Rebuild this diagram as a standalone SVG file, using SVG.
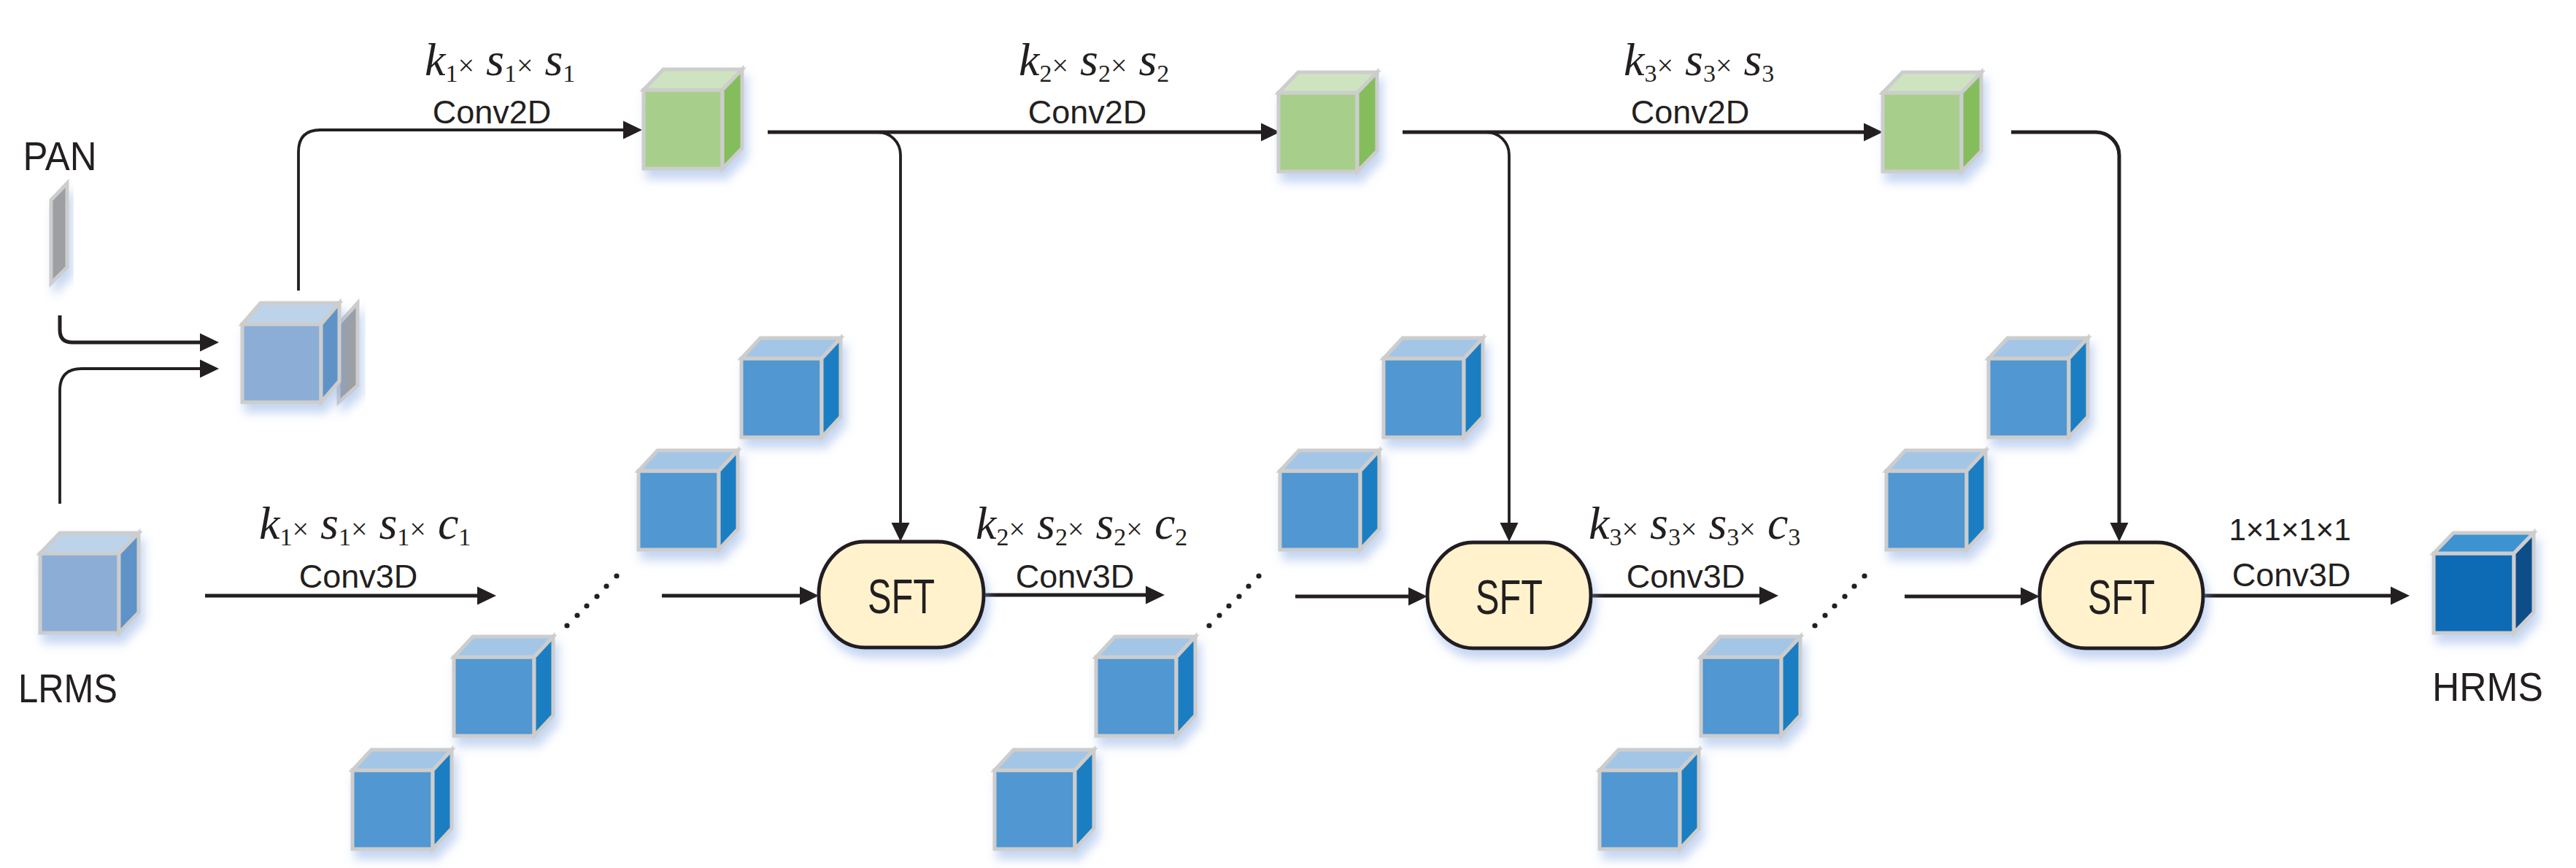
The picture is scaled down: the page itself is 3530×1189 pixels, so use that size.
<svg xmlns="http://www.w3.org/2000/svg" xmlns:xlink="http://www.w3.org/1999/xlink" width="3530" height="1189" viewBox="0 0 3530 1189">
<style>
.edge{fill:none;stroke:#231f20;stroke-width:5;}
.thin{stroke-width:3.8;}
.cb{stroke:#cdcdcd;stroke-width:5;stroke-linejoin:miter;}
.sft{fill:#fff2cc;stroke:#231f20;stroke-width:5;}
.sans{font-family:"Liberation Sans",Arial,sans-serif;fill:#231f20;text-anchor:middle;}
.lab{font-size:45px;}
.name{font-size:56px;}
.sftt{font-size:66px;}
.math{font-family:"Liberation Serif","Times New Roman",serif;font-size:64px;fill:#231f20;}
.it{font-style:italic;}
.sub{font-size:34px;}
.x{font-size:40px;}
.dot{fill:#231f20;}
</style>
<defs>
<filter id="glow" x="-40%" y="-40%" width="180%" height="180%">
<feDropShadow dx="5" dy="12" stdDeviation="7" flood-color="#7ea3e0" flood-opacity="0.45"/>
</filter>
<marker id="ah" markerUnits="userSpaceOnUse" markerWidth="34" markerHeight="34" viewBox="-6 -17 34 34" refX="0" refY="0" orient="auto">
<path d="M-4,-12.5 L22,0 L-4,12.5 z" fill="#231f20"/>
</marker>
<g id="cubeBlue" class="cb">
<rect x="0" y="0" width="110" height="108" fill="#5197d1"/>
<polygon points="0,0 26,-28 136,-28 110,0" fill="#a3c6e7"/>
<polygon points="110,0 136,-28 136,80 110,108" fill="#1f7ec2"/>
</g>
<g id="cubeGreen" class="cb">
<rect x="0" y="0" width="108" height="108" fill="#a7cf8b"/>
<polygon points="0,0 27,-28 135,-28 108,0" fill="#cee4c0"/>
<polygon points="108,0 135,-28 135,80 108,108" fill="#85bd5d"/>
</g>
<g id="cubeLight" class="cb">
<rect x="0" y="0" width="108" height="109" fill="#8caed6"/>
<polygon points="0,0 27,-28 135,-28 108,0" fill="#bcd3ea"/>
<polygon points="108,0 135,-28 135,81 108,109" fill="#5f93c8"/>
</g>
<g id="cubeDark" class="cb">
<rect x="0" y="0" width="110" height="109" fill="#0f6ab4"/>
<polygon points="0,0 27,-28 137,-28 110,0" fill="#3d93d0"/>
<polygon points="110,0 137,-28 137,81 110,109" fill="#0a4d8a"/>
</g>
</defs>

<rect width="3530" height="1189" fill="#ffffff"/>

<!-- connectors -->
<g id="connectors">
<path class="edge" d="M82,432 V452 Q82,469 99,469 H278" marker-end="url(#ah)"/>
<path class="edge thin" d="M82,690 V535 Q82,505 112,505 H278" marker-end="url(#ah)"/>
<path class="edge thin" d="M409,398 V208 Q409,178 439,178 H858" marker-end="url(#ah)"/>
<path class="edge" d="M1052,181 H1732" marker-end="url(#ah)"/>
<path class="edge thin" d="M1203,181 A31,31 0 0 1 1234,212 V720" marker-end="url(#ah)"/>
<path class="edge" d="M1922,181 H2558" marker-end="url(#ah)"/>
<path class="edge thin" d="M2037,181 A31,31 0 0 1 2068,212 V720" marker-end="url(#ah)"/>
<path class="edge" d="M2756,181 H2872 A32,32 0 0 1 2904,213 V720" marker-end="url(#ah)"/>
<path class="edge" d="M281,816 H658" marker-end="url(#ah)"/>
<path class="edge" d="M907,816 H1100" marker-end="url(#ah)"/>
<path class="edge" d="M1348,815 H1574" marker-end="url(#ah)"/>
<path class="edge" d="M1775,817 H1934" marker-end="url(#ah)"/>
<path class="edge" d="M2180,816 H2415" marker-end="url(#ah)"/>
<path class="edge" d="M2610,817 H2773" marker-end="url(#ah)"/>
<path class="edge" d="M3020,816 H3280" marker-end="url(#ah)"/>
</g>

<!-- input nodes -->
<g id="pan">
<text class="sans name" x="82" y="233" font-size="53" textLength="101" lengthAdjust="spacingAndGlyphs">PAN</text>
<polygon class="cb" points="70,274 92,251 92,366 70,388" fill="#9d9fa2" filter="url(#glow)"/>
</g>
<g id="lrms">
<use href="#cubeLight" x="55" y="758" filter="url(#glow)"/>
<text class="sans name" x="93" y="962" textLength="136" lengthAdjust="spacingAndGlyphs">LRMS</text>
</g>
<g id="concat">
<polygon class="cb" points="464,444 490,415 490,528 464,551" fill="#9d9fa2" filter="url(#glow)"/>
<g filter="url(#glow)">
<g class="cb">
<rect x="332" y="444" width="108" height="107" fill="#8caed6"/>
<polygon points="332,444 357,415 465,415 440,444" fill="#bcd3ea"/>
<polygon points="440,444 465,415 465,522 440,551" fill="#5f93c8"/>
</g>
</g>
</g>

<!-- Conv2D branch (green) -->
<g id="green1"><use href="#cubeGreen" x="882" y="123" filter="url(#glow)"/></g>
<g id="green2"><use href="#cubeGreen" x="1752" y="127" filter="url(#glow)"/></g>
<g id="green3"><use href="#cubeGreen" x="2580" y="127" filter="url(#glow)"/></g>

<!-- Conv2D labels -->
<g id="label2d1">
<text class="math" x="582" y="103"><tspan class="it">k</tspan><tspan class="sub" dy="9">1</tspan><tspan class="x" dy="-9">×</tspan><tspan> </tspan><tspan class="it">s</tspan><tspan class="sub" dy="9">1</tspan><tspan class="x" dy="-9">×</tspan><tspan> </tspan><tspan class="it">s</tspan><tspan class="sub" dy="9">1</tspan></text>
<text class="sans lab" x="674" y="169">Conv2D</text>
</g>
<g id="label2d2">
<text class="math" x="1396" y="103"><tspan class="it">k</tspan><tspan class="sub" dy="9">2</tspan><tspan class="x" dy="-9">×</tspan><tspan> </tspan><tspan class="it">s</tspan><tspan class="sub" dy="9">2</tspan><tspan class="x" dy="-9">×</tspan><tspan> </tspan><tspan class="it">s</tspan><tspan class="sub" dy="9">2</tspan></text>
<text class="sans lab" x="1490" y="169">Conv2D</text>
</g>
<g id="label2d3">
<text class="math" x="2225" y="103"><tspan class="it">k</tspan><tspan class="sub" dy="9">3</tspan><tspan class="x" dy="-9">×</tspan><tspan> </tspan><tspan class="it">s</tspan><tspan class="sub" dy="9">3</tspan><tspan class="x" dy="-9">×</tspan><tspan> </tspan><tspan class="it">s</tspan><tspan class="sub" dy="9">3</tspan></text>
<text class="sans lab" x="2316" y="169">Conv2D</text>
</g>

<!-- Conv3D labels -->
<g id="label3d1">
<text class="math" x="355" y="738"><tspan class="it">k</tspan><tspan class="sub" dy="9">1</tspan><tspan class="x" dy="-9">×</tspan><tspan> </tspan><tspan class="it">s</tspan><tspan class="sub" dy="9">1</tspan><tspan class="x" dy="-9">×</tspan><tspan> </tspan><tspan class="it">s</tspan><tspan class="sub" dy="9">1</tspan><tspan class="x" dy="-9">×</tspan><tspan> </tspan><tspan class="it">c</tspan><tspan class="sub" dy="9">1</tspan></text>
<text class="sans lab" x="491" y="805">Conv3D</text>
</g>
<g id="label3d2">
<text class="math" x="1337" y="738"><tspan class="it">k</tspan><tspan class="sub" dy="9">2</tspan><tspan class="x" dy="-9">×</tspan><tspan> </tspan><tspan class="it">s</tspan><tspan class="sub" dy="9">2</tspan><tspan class="x" dy="-9">×</tspan><tspan> </tspan><tspan class="it">s</tspan><tspan class="sub" dy="9">2</tspan><tspan class="x" dy="-9">×</tspan><tspan> </tspan><tspan class="it">c</tspan><tspan class="sub" dy="9">2</tspan></text>
<text class="sans lab" x="1473" y="805">Conv3D</text>
</g>
<g id="label3d3">
<text class="math" x="2177" y="738"><tspan class="it">k</tspan><tspan class="sub" dy="9">3</tspan><tspan class="x" dy="-9">×</tspan><tspan> </tspan><tspan class="it">s</tspan><tspan class="sub" dy="9">3</tspan><tspan class="x" dy="-9">×</tspan><tspan> </tspan><tspan class="it">s</tspan><tspan class="sub" dy="9">3</tspan><tspan class="x" dy="-9">×</tspan><tspan> </tspan><tspan class="it">c</tspan><tspan class="sub" dy="9">3</tspan></text>
<text class="sans lab" x="2310" y="805">Conv3D</text>
</g>
<g id="label3d4">
<text class="sans" x="3138" y="740" font-size="42">1×1×1×1</text>
<text class="sans lab" x="3140" y="803">Conv3D</text>
</g>

<!-- Feature stacks -->
<g id="stack1">
<use href="#cubeBlue" x="1016" y="491" filter="url(#glow)"/>
<use href="#cubeBlue" x="875" y="645" filter="url(#glow)"/>
<use href="#cubeBlue" x="622" y="900" filter="url(#glow)"/>
<use href="#cubeBlue" x="483" y="1055" filter="url(#glow)"/>
<circle class="dot" cx="845" cy="789" r="3.6"/><circle class="dot" cx="831" cy="803" r="3.6"/><circle class="dot" cx="818" cy="817" r="3.6"/><circle class="dot" cx="804" cy="830" r="3.6"/><circle class="dot" cx="791" cy="843" r="3.6"/><circle class="dot" cx="777" cy="857" r="3.6"/>
</g>
<g id="stack2">
<use href="#cubeBlue" x="1896" y="491" filter="url(#glow)"/>
<use href="#cubeBlue" x="1754" y="645" filter="url(#glow)"/>
<use href="#cubeBlue" x="1502" y="900" filter="url(#glow)"/>
<use href="#cubeBlue" x="1363" y="1055" filter="url(#glow)"/>
<circle class="dot" cx="1725" cy="789" r="3.6"/><circle class="dot" cx="1711" cy="803" r="3.6"/><circle class="dot" cx="1698" cy="817" r="3.6"/><circle class="dot" cx="1684" cy="830" r="3.6"/><circle class="dot" cx="1671" cy="843" r="3.6"/><circle class="dot" cx="1657" cy="857" r="3.6"/>
</g>
<g id="stack3">
<use href="#cubeBlue" x="2725" y="491" filter="url(#glow)"/>
<use href="#cubeBlue" x="2585" y="645" filter="url(#glow)"/>
<use href="#cubeBlue" x="2331" y="900" filter="url(#glow)"/>
<use href="#cubeBlue" x="2192" y="1055" filter="url(#glow)"/>
<circle class="dot" cx="2555" cy="789" r="3.6"/><circle class="dot" cx="2541" cy="803" r="3.6"/><circle class="dot" cx="2528" cy="817" r="3.6"/><circle class="dot" cx="2514" cy="830" r="3.6"/><circle class="dot" cx="2501" cy="843" r="3.6"/><circle class="dot" cx="2487" cy="857" r="3.6"/>
</g>

<!-- SFT nodes -->
<g id="sft1">
<rect class="sft" x="1122" y="742" width="226" height="145" rx="63" ry="72" filter="url(#glow)"/>
<text class="sans sftt" x="1235" y="840" textLength="92" lengthAdjust="spacingAndGlyphs">SFT</text>
</g>
<g id="sft2">
<rect class="sft" x="1956" y="743" width="224" height="145" rx="63" ry="72" filter="url(#glow)"/>
<text class="sans sftt" x="2068" y="841" textLength="92" lengthAdjust="spacingAndGlyphs">SFT</text>
</g>
<g id="sft3">
<rect class="sft" x="2795" y="743" width="224" height="145" rx="63" ry="72" filter="url(#glow)"/>
<text class="sans sftt" x="2907" y="841" textLength="92" lengthAdjust="spacingAndGlyphs">SFT</text>
</g>

<!-- output -->
<g id="hrms">
<use href="#cubeDark" x="3335" y="758" filter="url(#glow)"/>
<text class="sans name" x="3409" y="960" textLength="152" lengthAdjust="spacingAndGlyphs">HRMS</text>
</g>
</svg>
